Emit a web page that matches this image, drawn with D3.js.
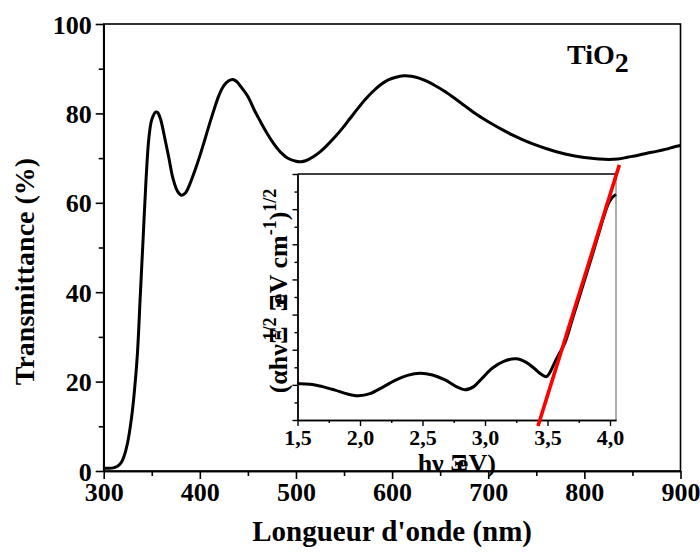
<!DOCTYPE html>
<html><head><meta charset="utf-8">
<script src="https://cdn.jsdelivr.net/npm/d3@7"></script>
<style>
html,body{margin:0;padding:0;background:#fff;}
svg text{font-family:"Liberation Serif","Times New Roman",serif;font-weight:bold;fill:#000;}
</style></head><body>
<svg id="chart" width="700" height="552"></svg>
<script>
// Transmittance spectrum of the TiO2 film
const wavelength = [300,305,310,314,318,321,325,329,332,335,338,341,344,347,350,354,356,359,364,368,372,377,381,385,390,395,400,405,410,415,420,425,430,434,438,443,450,457,463,470,477,485,492,500,505,510,518,525,532,540,548,556,564,572,580,588,596,604,612,620,628,636,645,655,665,675,685,695,705,715,725,735,745,755,765,775,785,795,805,815,825,835,845,855,865,875,885,893,900];
const transmittance = [0.6,0.6,0.7,1.0,1.8,3.2,6.5,12,18,26,39,52,65,74.5,78.6,80.3,80.2,78.8,74,69.8,65.5,62.5,61.7,62.2,64.4,67.3,70.5,74.0,77.6,81.0,84.1,86.2,87.3,87.6,87.2,85.9,83.8,80.6,78.2,75.5,73.2,71.1,69.9,69.3,69.2,69.4,70.3,71.4,72.8,74.6,76.6,78.8,81.0,83.1,84.9,86.4,87.5,88.1,88.4,88.3,87.9,87.2,86.2,84.9,83.4,81.8,80.2,78.8,77.5,76.3,75.2,74.2,73.3,72.5,71.8,71.2,70.7,70.3,70.0,69.8,69.7,69.8,70.2,70.6,71.1,71.5,72.0,72.5,72.8];
const xTicks = [300,400,500,600,700,800,900];
const xMinor = [350,450,550,650,750,850];
const yTicks = [0,20,40,60,80,100];
const yMinor = [10,30,50,70,90];

// Tauc plot (inset)
const photonEnergy = [1.5,1.6,1.7,1.8,1.9,1.99,2.08,2.18,2.28,2.38,2.48,2.58,2.68,2.77,2.84,2.91,2.98,3.06,3.15,3.25,3.33,3.4,3.45,3.49,3.52,3.555,3.59,3.64,3.7,3.76,3.82,3.88,3.93,3.965,3.99,4.015,4.048];
const taucValue = [1.03,1.02,0.95,0.85,0.74,0.69,0.75,0.93,1.13,1.27,1.33,1.28,1.14,0.95,0.86,0.95,1.2,1.48,1.67,1.74,1.64,1.45,1.3,1.23,1.36,1.62,1.86,2.2,2.88,3.56,4.25,4.95,5.55,5.95,6.18,6.32,6.42];
const insetXTicks = [1.5,2.0,2.5,3.0,3.5,4.0];
const insetXLabels = ["1,5","2,0","2,5","3,0","3,5","4,0"];
const insetXMinor = [1.75,2.25,2.75,3.25,3.75];
const insetYTicks = [0,1,2,3,4,5,6,7];
const insetYMinor = [0.5,1.5,2.5,3.5,4.5,5.5,6.5];
// Linear fit of the absorption edge
const fitEnergy = [3.424, 4.075];
const fitValue = [-0.17, 7.26];

const svg = d3.select("#chart");

// ---------- main plot ----------
const L = 103.7, R = 680.5, T = 24, B = 471;
const x = d3.scaleLinear().domain([300, 900]).range([L, R]);
const y = d3.scaleLinear().domain([0, 100]).range([B, T]);

svg.append("rect").attr("x", L).attr("y", T).attr("width", R - L).attr("height", B - T)
  .attr("fill", "none").attr("stroke", "#000").attr("stroke-width", 1.6);

function styleAxis(g, fs, sw) {
  g.selectAll("path.domain").attr("stroke", "#000").attr("stroke-width", sw);
  g.selectAll(".tick line").attr("stroke", "#000").attr("stroke-width", sw);
  g.selectAll(".tick text").style("font-size", fs + "px").style("font-family", '"Liberation Serif",serif').style("font-weight", "bold").attr("fill", "#000");
}

const gx = svg.append("g").attr("transform", `translate(0,${B})`)
  .call(d3.axisBottom(x).tickValues(xTicks).tickFormat(d3.format("d")).tickSize(8).tickSizeOuter(0).tickPadding(4));
styleAxis(gx, 26, 1.6);
const gxm = svg.append("g").attr("transform", `translate(0,${B})`)
  .call(d3.axisBottom(x).tickValues(xMinor).tickFormat("").tickSize(5).tickSizeOuter(0));
styleAxis(gxm, 26, 1.6);

const gy = svg.append("g").attr("transform", `translate(${L},0)`)
  .call(d3.axisLeft(y).tickValues(yTicks).tickFormat(d3.format("d")).tickSize(8).tickSizeOuter(0).tickPadding(4));
styleAxis(gy, 26, 1.6);
gy.selectAll(".tick text").attr("dy", "0.35em");
const gym = svg.append("g").attr("transform", `translate(${L},0)`)
  .call(d3.axisLeft(y).tickValues(yMinor).tickFormat("").tickSize(5).tickSizeOuter(0));
styleAxis(gym, 26, 1.6);

const line = d3.line().x((d, i) => x(wavelength[i])).y(d => y(d)).curve(d3.curveCatmullRom.alpha(0.5));
svg.append("path").datum(transmittance).attr("d", line)
  .attr("fill", "none").attr("stroke", "#000").attr("stroke-width", 3).attr("stroke-linejoin", "round");

svg.append("text").attr("x", (L + R) / 2).attr("y", 541).attr("text-anchor", "middle")
  .style("font-size", "29px").text("Longueur d'onde (nm)");
svg.append("text").attr("transform", `translate(34,${(T + B) / 2 + 24}) rotate(-90)`).attr("text-anchor", "middle")
  .style("font-size", "28px").text("Transmittance (%)");

const tio2 = svg.append("text").attr("x", 567).attr("y", 64).style("font-size", "28px");
tio2.append("tspan").text("TiO");
tio2.append("tspan").attr("dy", 8).text("2");

// ---------- inset: Tauc plot ----------
const iL = 297.5, iR = 616, iT = 174, iB = 420;
const xi = d3.scaleLinear().domain([1.5, 1.5 + (iR - iL) / 125]).range([iL, iR]);
const yi = d3.scaleLinear().domain([0, 7]).range([iB, iT]);

svg.append("rect").attr("x", iL).attr("y", iT).attr("width", iR - iL).attr("height", iB - iT).attr("fill", "#fff");
svg.append("line").attr("x1", iL).attr("x2", iR).attr("y1", iT).attr("y2", iT).attr("stroke", "#000").attr("stroke-width", 1.4);
svg.append("line").attr("x1", iR).attr("x2", iR).attr("y1", iT).attr("y2", iB).attr("stroke", "#777").attr("stroke-width", 1.2);

const gxi = svg.append("g").attr("transform", `translate(0,${iB})`)
  .call(d3.axisBottom(xi).tickValues(insetXTicks).tickFormat((d, i) => insetXLabels[i]).tickSize(6).tickSizeOuter(0).tickPadding(3));
styleAxis(gxi, 22, 1.4);
const gxim = svg.append("g").attr("transform", `translate(0,${iB})`)
  .call(d3.axisBottom(xi).tickValues(insetXMinor).tickFormat("").tickSize(3).tickSizeOuter(0));
styleAxis(gxim, 22, 1.4);

const gyi = svg.append("g").attr("transform", `translate(${iL},0)`)
  .call(d3.axisLeft(yi).tickValues(insetYTicks).tickFormat("").tickSize(5).tickSizeOuter(0));
styleAxis(gyi, 22, 1.4);
const gyim = svg.append("g").attr("transform", `translate(${iL},0)`)
  .call(d3.axisLeft(yi).tickValues(insetYMinor).tickFormat("").tickSize(3).tickSizeOuter(0));
styleAxis(gyim, 22, 1.4);

const lineI = d3.line().x((d, i) => xi(photonEnergy[i])).y(d => yi(d)).curve(d3.curveCatmullRom.alpha(0.5));
svg.append("path").datum(taucValue).attr("d", lineI)
  .attr("fill", "none").attr("stroke", "#000").attr("stroke-width", 3).attr("stroke-linejoin", "round");

const fitLine = d3.line().x((d, i) => xi(fitEnergy[i])).y(d => yi(d));
svg.append("path").datum(fitValue).attr("d", fitLine)
  .attr("fill", "none").attr("stroke", "#ff0000").attr("stroke-width", 3.6);

// inset axis titles
const xt = svg.append("text").attr("x", (iL + iR) / 2).attr("y", 472).attr("text-anchor", "middle").style("font-size", "26px");
xt.append("tspan").text("hν Ξ");
xt.append("tspan").attr("dx", -11).text("eV)");

const yt = svg.append("text").attr("transform", `translate(287,${(iT + iB) / 2 - 6}) rotate(-90)`).attr("text-anchor", "middle").style("font-size", "26px");
yt.append("tspan").text("(αhνΞ");
yt.append("tspan").attr("dx", -14).attr("dy", -11).style("font-size", "18px").text("1/2");
yt.append("tspan").attr("dx", 6).attr("dy", 11).text("Ξ");
yt.append("tspan").attr("dx", -11).text("eV cm");
yt.append("tspan").attr("dy", -11).style("font-size", "18px").text("-1");
yt.append("tspan").attr("dy", 11).text(")");
yt.append("tspan").attr("dy", -11).style("font-size", "18px").text("1/2");
</script>
</body></html>
